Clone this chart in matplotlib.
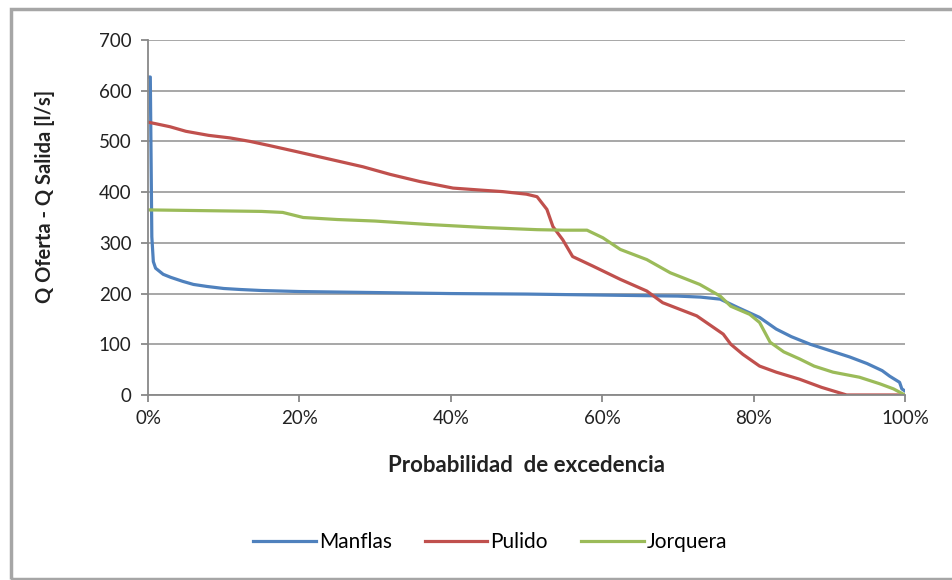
import numpy as np
import matplotlib.pyplot as plt
from matplotlib.patches import Rectangle
from matplotlib.ticker import PercentFormatter

plt.rcParams['font.family'] = ['Lato', 'DejaVu Sans']

# exceedance probability (%) and flow difference (l/s) for each station
manflas_x = [0, 0.3, 0.5, 0.7, 1.0, 2.0, 3.0, 4.6, 6.0, 7.8, 10, 12.2, 15, 20, 30, 40,
             50, 60, 70, 73, 75.6, 78, 80.8, 83, 85, 87.5, 90, 92.7, 95, 97, 98, 99.3, 99.6, 100]
manflas_y = [627, 627, 312, 263, 250, 238, 232, 224, 218, 214, 210, 208, 206, 204, 202, 200,
             199, 197, 195, 193, 189, 172, 153, 130, 115, 100, 88, 75, 62, 48, 37, 25, 12, 8]

pulido_x = [0, 1, 2.9, 5, 8, 10.8, 13.5, 16, 19.6, 24, 28.4, 32, 35.9, 40.3, 44, 46.9, 50,
            51.4, 52.7, 53.5, 54.8, 56.1, 58.8, 62.4, 65.9, 68, 72.5, 76, 77, 78.6, 80.8,
            83, 86.1, 89, 92.3, 100]
pulido_y = [538, 535, 529, 520, 512, 507, 500, 492, 480, 465, 450, 435, 421, 408, 404, 401, 396,
            391, 366, 332, 306, 273, 254, 228, 205, 182, 156, 120, 100, 80, 57,
            45, 31, 15, 0, 0]

jorquera_x = [0, 5, 10, 15, 17.8, 20.5, 25, 30, 37.3, 44.8, 51.4, 55, 58, 60.1, 62.4, 65.9,
              69, 72.9, 75.6, 77, 79.5, 80.8, 82.2, 84, 86.1, 88, 90.5, 94, 96.7, 98.5, 100]
jorquera_y = [365, 364, 363, 362, 360, 350, 346, 343, 336, 330, 326, 325, 325, 310, 287, 267,
              241, 218, 195, 175, 159, 143, 104, 85, 71, 57, 45, 35, 22, 12, 0]

series = [
    ('Manflas', manflas_x, manflas_y, '#4F81BD'),
    ('Pulido', pulido_x, pulido_y, '#C0504D'),
    ('Jorquera', jorquera_x, jorquera_y, '#9BBB59'),
]

fig = plt.figure(figsize=(9.52, 5.8), dpi=100)
ax = fig.add_axes([0.1555, 0.319, 0.795, 0.612])

for name, xs, ys, col in series:
    ax.plot(np.array(xs) / 100, ys, color=col, lw=2.3, label=name, solid_joinstyle='round')

ax.set_xlim(0, 1)
ax.set_ylim(0, 700)
ax.set_yticks(np.arange(0, 701, 100))
ax.set_xticks(np.arange(0, 1.01, 0.2))
ax.xaxis.set_major_formatter(PercentFormatter(1.0, decimals=0))
ax.yaxis.grid(True, color='#A0A0A0', lw=1.3)
ax.set_axisbelow(True)

for s in ['top', 'right']:
    ax.spines[s].set_visible(False)
for s in ['left', 'bottom']:
    ax.spines[s].set_color('#888888')
    ax.spines[s].set_linewidth(1.3)
ax.tick_params(colors='#888888', length=5, width=1.3, labelsize=13.5, labelcolor='#222222')
ax.tick_params(axis='y', pad=7)
ax.tick_params(axis='x', pad=6)

ax.set_xlabel('Probabilidad  de excedencia', fontsize=16, fontweight='bold',
              color='#222222', labelpad=20)
ax.set_ylabel('Q Oferta - Q Salida [l/s]', fontsize=14.5, fontweight='bold',
              color='#222222')
ax.yaxis.set_label_coords(-0.123, 0.56)

fig.legend(loc='center', bbox_to_anchor=(0.515, 0.065), ncol=3, frameon=False,
           fontsize=15, handlelength=3.0, handletextpad=0.15, columnspacing=1.6)

# outer chart border
fig.patches.append(Rectangle((0.0115, 0.002), 1.0, 0.9825, transform=fig.transFigure,
                             fill=False, edgecolor='#A6A6A6', lw=2.5))

fig.savefig('out.png', dpi=100, facecolor='white')
